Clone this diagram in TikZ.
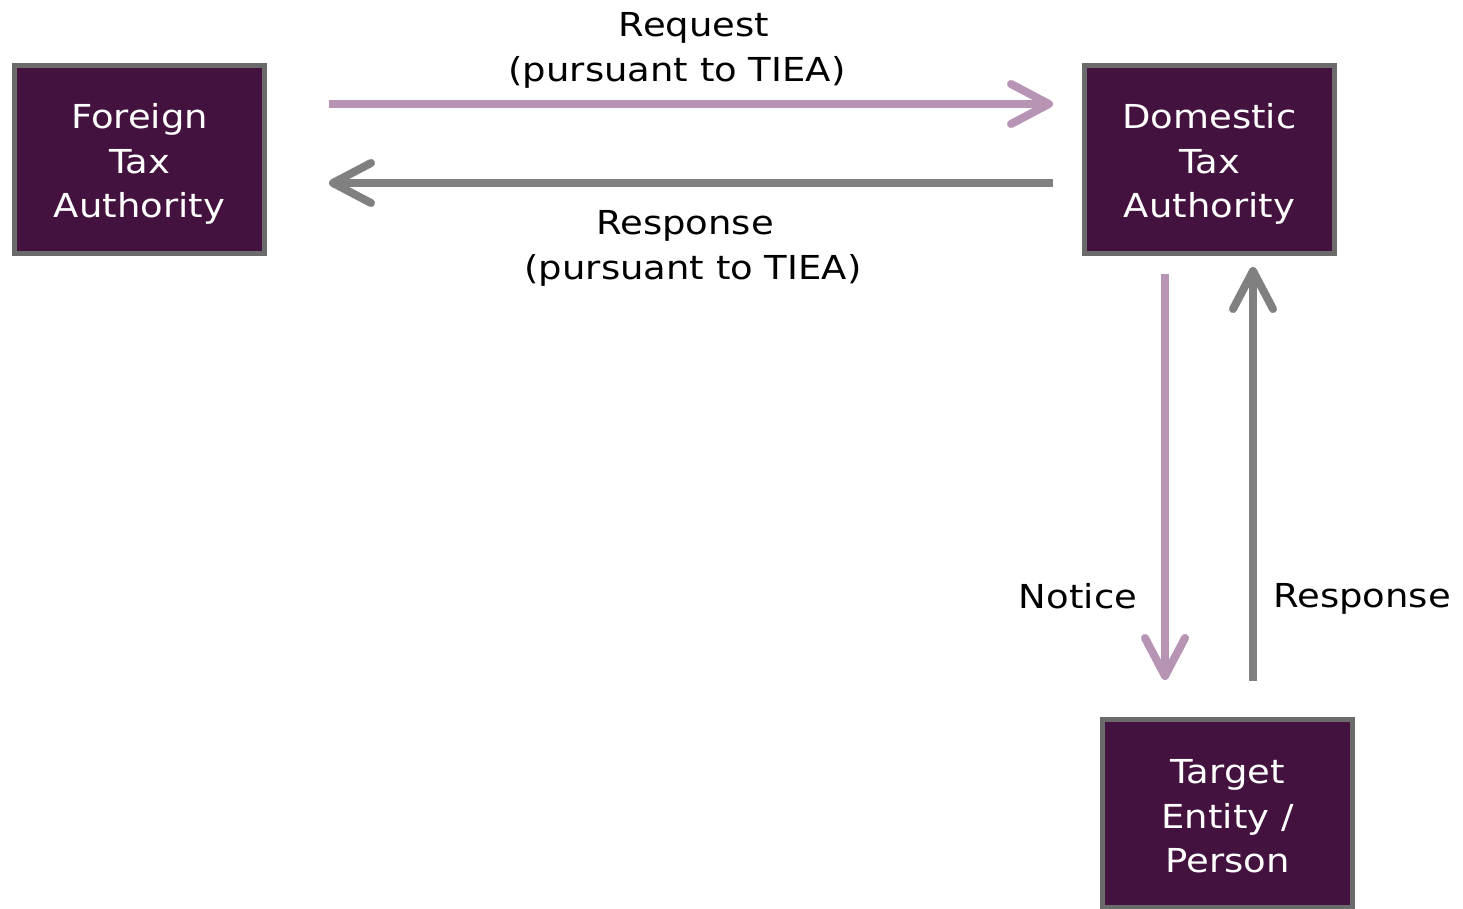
\documentclass[tikz,border=0pt]{standalone}
\usepackage{fontspec}
\setmainfont{DejaVu Sans}[FakeStretch=1.12]
\usetikzlibrary{arrows.meta}
\definecolor{boxfill}{HTML}{44123F}
\definecolor{boxline}{HTML}{6B6B6B}
\definecolor{lilac}{HTML}{B794B4}
\definecolor{greyline}{HTML}{808080}
\tikzset{
  authbox/.style={draw=boxline, line width=5pt, fill=boxfill,
    minimum width=250pt, minimum height=188pt, inner sep=0pt},
  boxtext/.style={text=white, inner sep=0pt, align=center,
    font=\fontsize{33}{44.5}\selectfont},
  lbl/.style={font=\fontsize{33}{44.5}\selectfont, inner sep=0pt, align=center},
  flow/.style={line width=8pt, -{Straight Barb[length=38pt,width=40pt,round]}},
  req/.style={flow, draw=lilac},
  resp/.style={flow, draw=greyline},
}
\begin{document}
\begin{tikzpicture}[x=1pt,y=-1pt]
\useasboundingbox (0,0) rectangle (1463,909);
\clip (0,0) rectangle (1463,909);
\node[authbox] (fta) at (139.5,159.5) {};
\node[authbox] (dta) at (1209.5,159.5) {};
\node[authbox] (tgt) at (1227.5,813.5) {};
\node[boxtext] (ftat) at ([yshift=-4.5pt]fta.center) {Foreign\\Tax\\Authority};
\node[boxtext] (dtat) at ([yshift=-4.5pt]dta.center) {Domestic\\Tax\\Authority};
\node[boxtext] (tgtt) at ([yshift=-3pt]tgt.center) {Target\\Entity /\\Person};

\draw[req, shorten <=62pt, shorten >=29pt] ([yshift=55.5pt]fta.east) -- ([yshift=55.5pt]dta.west);
\draw[resp, shorten <=29pt, shorten >=62pt] ([yshift=-23.5pt]dta.west) -- ([yshift=-23.5pt]fta.east);
\draw[req, shorten <=18pt, shorten >=37pt] ([xshift=-44.5pt]dta.south) -- ([xshift=-44.5pt]dta.south |- tgt.north);
\draw[resp, shorten <=36pt, shorten >=11pt] ([xshift=43.5pt]dta.south |- tgt.north) -- ([xshift=43.5pt]dta.south);

\node[lbl] (l1) at (694,28) {Request};
\node[lbl] (l2) at (677,72.5) {(pursuant to TIEA)};
\node[lbl] (l3) at (685,225.5) {Response};
\node[lbl] (l4) at (693,270.5) {(pursuant to TIEA)};
\node[lbl] (l5) at (1078,596) {Notice};
\node[lbl] (l6) at (1362,599) {Response};
\end{tikzpicture}
\end{document}
